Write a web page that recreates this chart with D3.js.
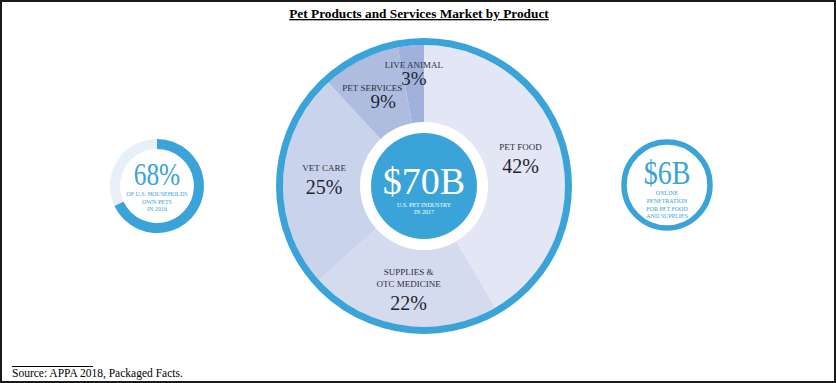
<!DOCTYPE html>
<html>
<head>
<meta charset="utf-8">
<script src="https://d3js.org/d3.v7.min.js"></script>
<style>
    body { margin: 0; background: #fff; }
    svg { display: block; }
</style>
</head>
<body>
<div class="chart"></div>
<script>
// market share by product, %
var categories = ["PET FOOD", "SUPPLIES & OTC MEDICINE", "VET CARE", "PET SERVICES", "LIVE ANIMAL"];
var labelLines = [["PET FOOD"], ["SUPPLIES &", "OTC MEDICINE"], ["VET CARE"], ["PET SERVICES"], ["LIVE ANIMAL"]];
var shares = [42, 22, 25, 9, 3];
var sliceColors = ["#e3e6f4", "#d5dbef", "#cad3ec", "#aebce0", "#9fb1dc"];

var householdShare = [68];
var householdLines = ["OF U.S. HOUSEHOLDS", "OWN PETS", "IN 2016"];
var onlineLines = ["ONLINE", "PENETRATION", "FOR PET FOOD", "AND SUPPLIES"];
var industryLines = ["U.S. PET INDUSTRY", "IN 2017"];

var W = 836, H = 383;
var blue = "#3aa3d8";
var serif = "'Liberation Serif', 'Times New Roman', serif";

var svg = d3.select(".chart").append("svg")
    .attr("width", W)
    .attr("height", H)
    .style("font-family", serif);

svg.append("rect")
    .attr("x", 1).attr("y", 1)
    .attr("width", W - 2).attr("height", H - 2)
    .attr("fill", "#fff")
    .attr("stroke", "#1a1a1a")
    .attr("stroke-width", 2);

// title
svg.append("text")
    .attr("x", 419).attr("y", 18)
    .attr("text-anchor", "middle")
    .attr("font-size", 13.3)
    .attr("font-weight", "bold")
    .style("text-decoration", "underline")
    .text("Pet Products and Services Market by Product");

// ---- main pie ----
var cx = 424, cy = 186;
var main = svg.append("g").attr("transform", "translate(" + cx + "," + cy + ")");

var pie = d3.pie().sort(null).value(function(d) { return d; });
var arcs = pie(shares);

var arc = d3.arc().innerRadius(0).outerRadius(141);

main.selectAll("path.slice")
    .data(arcs)
    .enter().append("path")
    .attr("class", "slice")
    .attr("d", arc)
    .attr("fill", function(d, i) { return sliceColors[i]; });

main.append("circle")
    .attr("r", 144.5)
    .attr("fill", "none")
    .attr("stroke", blue)
    .attr("stroke-width", 7);

main.append("circle").attr("r", 64).attr("fill", "#fff");
main.append("circle").attr("r", 53).attr("fill", blue);

main.append("text")
    .attr("x", 0).attr("y", 8)
    .attr("text-anchor", "middle")
    .attr("font-size", 38)
    .attr("fill", "#fff")
    .text("$70B");

main.selectAll("text.ind")
    .data(industryLines)
    .enter().append("text")
    .attr("class", "ind")
    .attr("x", 0)
    .attr("y", function(d, i) { return 21 + i * 7; })
    .attr("text-anchor", "middle")
    .attr("font-size", 6)
    .attr("fill", "#fff")
    .text(function(d) { return d; });

// slice labels, pushed out a bit for the thin slices
main.selectAll("g.lbl")
    .data(arcs)
    .enter().append("g")
    .attr("class", "lbl")
    .each(function(d, i) {
        var span = d.endAngle - d.startAngle;
        var mid = span >= 0.3 && span < 0.7;
        var r = span < 0.3 ? 108 : (mid ? 95 : 100);
        var pos = d3.arc().innerRadius(r).outerRadius(r).centroid(d);
        var lines = labelLines[i];
        var gap = span < 0.7 ? 17 : 23;
        var y0 = pos[1] - 10;
        var g = d3.select(this);
        lines.forEach(function(t, j) {
            g.append("text")
                .attr("x", pos[0] - (mid ? 9 : 0))
                .attr("y", y0 + j * 12)
                .attr("text-anchor", "middle")
                .attr("font-size", 9)
                .attr("fill", "#2b2d3a")
                .text(t);
        });
        g.append("text")
            .attr("x", pos[0] + (mid ? 2 : 0))
            .attr("y", y0 + (lines.length - 1) * 12 + gap)
            .attr("text-anchor", "middle")
            .attr("font-size", span < 0.7 ? 19 : 20)
            .attr("fill", "#23252f")
            .text(shares[i] + "%");
    });

// ---- left ring: households ----
var lx = 157, ly = 186;
var left = svg.append("g").attr("transform", "translate(" + lx + "," + ly + ")");
var ringScale = d3.scaleLinear().domain([0, 100]).range([0, 2 * Math.PI]);
var ringArc = d3.arc().innerRadius(37).outerRadius(47);

left.append("path")
    .attr("d", ringArc({ startAngle: 0, endAngle: 2 * Math.PI }))
    .attr("fill", "#e8eff7");
left.append("path")
    .attr("d", ringArc({ startAngle: 0, endAngle: ringScale(householdShare[0]) }))
    .attr("fill", blue);

left.append("text")
    .attr("transform", "translate(0,-1) scale(0.82,1)")
    .attr("text-anchor", "middle")
    .attr("font-size", 31)
    .attr("fill", blue)
    .text(householdShare[0] + "%");

left.selectAll("text.sub")
    .data(householdLines)
    .enter().append("text")
    .attr("class", "sub")
    .attr("x", 0)
    .attr("y", function(d, i) { return 10 + i * 7.5; })
    .attr("text-anchor", "middle")
    .attr("font-size", 6)
    .attr("fill", blue)
    .text(function(d) { return d; });

// ---- right ring: online ----
var rx = 667, ry = 185;
var right = svg.append("g").attr("transform", "translate(" + rx + "," + ry + ")");

right.append("circle")
    .attr("r", 43)
    .attr("fill", "#fff")
    .attr("stroke", blue)
    .attr("stroke-width", 5.5);

right.append("text")
    .attr("transform", "translate(0,-1) scale(0.85,1)")
    .attr("text-anchor", "middle")
    .attr("font-size", 33)
    .attr("fill", blue)
    .text("$6B");

right.selectAll("text.sub")
    .data(onlineLines)
    .enter().append("text")
    .attr("class", "sub")
    .attr("x", 0)
    .attr("y", function(d, i) { return 10 + i * 7.8; })
    .attr("text-anchor", "middle")
    .attr("font-size", 6)
    .attr("fill", blue)
    .text(function(d) { return d; });

// source note
svg.append("line")
    .attr("x1", 12).attr("x2", 93)
    .attr("y1", 366.5).attr("y2", 366.5)
    .attr("stroke", "#000")
    .attr("stroke-width", 1);

svg.append("text")
    .attr("x", 12).attr("y", 377)
    .attr("font-size", 11.5)
    .text("Source: APPA 2018, Packaged Facts.");
</script>
</body>
</html>
